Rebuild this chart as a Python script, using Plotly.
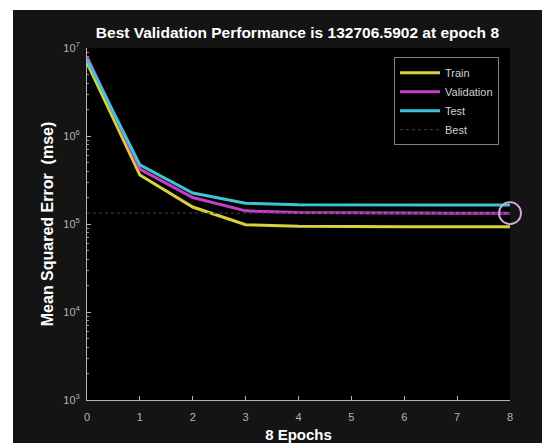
import plotly.graph_objects as go

epochs = [0, 1, 2, 3, 4, 5, 6, 7, 8]
train_mse = [6.8e6, 3.6e5, 1.56e5, 9.8e4, 9.4e4, 9.3e4, 9.3e4, 9.3e4, 9.3e4]
val_mse = [8.0e6, 4.2e5, 2.0e5, 1.41e5, 1.35e5, 1.335e5, 1.33e5, 1.328e5, 132706.5902]
test_mse = [7.4e6, 4.7e5, 2.25e5, 1.72e5, 1.66e5, 1.645e5, 1.64e5, 1.64e5, 1.64e5]
best_epoch = 8
best_val = 132706.5902
ytick_vals = [1e3, 1e4, 1e5, 1e6, 1e7]
ytick_text = ["10<sup>3</sup>", "10<sup>4</sup>", "10<sup>5</sup>", "10<sup>6</sup>", "10<sup>7</sup>"]
xtick_vals = epochs

FONT = "Liberation Sans, Arial, sans-serif"

fig = go.Figure()
fig.add_trace(go.Scatter(x=epochs, y=train_mse, mode="lines", name="Train",
                         line=dict(color="#d8d23a", width=3)))
fig.add_trace(go.Scatter(x=epochs, y=val_mse, mode="lines", name="Validation",
                         line=dict(color="#c63ec6", width=3)))
fig.add_trace(go.Scatter(x=epochs, y=test_mse, mode="lines", name="Test",
                         line=dict(color="#3ec4d4", width=3)))
fig.add_trace(go.Scatter(x=[epochs[0], epochs[-1]], y=[best_val, best_val], mode="lines",
                         name="Best", line=dict(color="#363636", width=1.2, dash="dot")))
fig.add_trace(go.Scatter(x=[best_epoch], y=[best_val], mode="markers", showlegend=False,
                         cliponaxis=False,
                         marker=dict(symbol="circle-open", size=22,
                                     line=dict(color="#d8a8e0", width=1.8),
                                     color="#d8a8e0")))

fig.update_layout(
    width=542, height=435,
    margin=dict(l=79, r=40, t=40, b=43, autoexpand=False),
    paper_bgcolor="#141414",
    plot_bgcolor="#000000",
    font=dict(family=FONT, color="#b4b4b4", size=11),
    title=dict(text="<b>Best Validation Performance is 132706.5902 at epoch 8</b>",
               x=0.534, xanchor="center", y=0.9425, yanchor="middle",
               font=dict(size=15.5, color="#ffffff", family=FONT)),
    showlegend=True,
    legend=dict(x=0.974, xanchor="right", y=0.974, yanchor="top",
                bgcolor="#000000", bordercolor="#808080", borderwidth=1,
                font=dict(size=11, color="#d0d0d0", family=FONT),
                itemwidth=40, tracegroupgap=0),
    xaxis=dict(range=[0, 8], tickvals=xtick_vals, ticks="inside", ticklen=4,
               tickcolor="#b4b4b4", showline=True, linecolor="#b4b4b4", linewidth=1,
               showgrid=False, zeroline=False, ticklabelstandoff=7, automargin=False,
               tickfont=dict(size=11, color="#b4b4b4"),
               title=dict(text="<b>8 Epochs</b>", standoff=7,
                          font=dict(size=15, color="#ffffff", family=FONT))),
    yaxis=dict(type="log", range=[3, 7], tickvals=ytick_vals, ticktext=ytick_text,
               ticks="inside", ticklen=4, tickcolor="#b4b4b4", ticklabelstandoff=4,
               automargin=False,
               minor=dict(ticks="inside", ticklen=2, tickcolor="#909090", dtick="D1", showgrid=False),
               showline=True, linecolor="#b4b4b4", linewidth=1,
               showgrid=False, zeroline=False,
               tickfont=dict(size=11, color="#b4b4b4"),
               title=dict(text="<b>Mean Squared Error  (mse)</b>", standoff=5,
                          font=dict(size=16, color="#ffffff", family=FONT))),
    shapes=[
        dict(type="rect", xref="paper", yref="paper", x0=-0.25, x1=1.2,
             y0=(392 - 2) / 352, y1=1.2, fillcolor="#ffffff", line=dict(width=0)),
        dict(type="rect", xref="paper", yref="paper", x0=-0.25, x1=-74 / 423,
             y0=-0.2, y1=1.2, fillcolor="#ffffff", line=dict(width=0)),
    ],
)

fig.write_html("out.html")
